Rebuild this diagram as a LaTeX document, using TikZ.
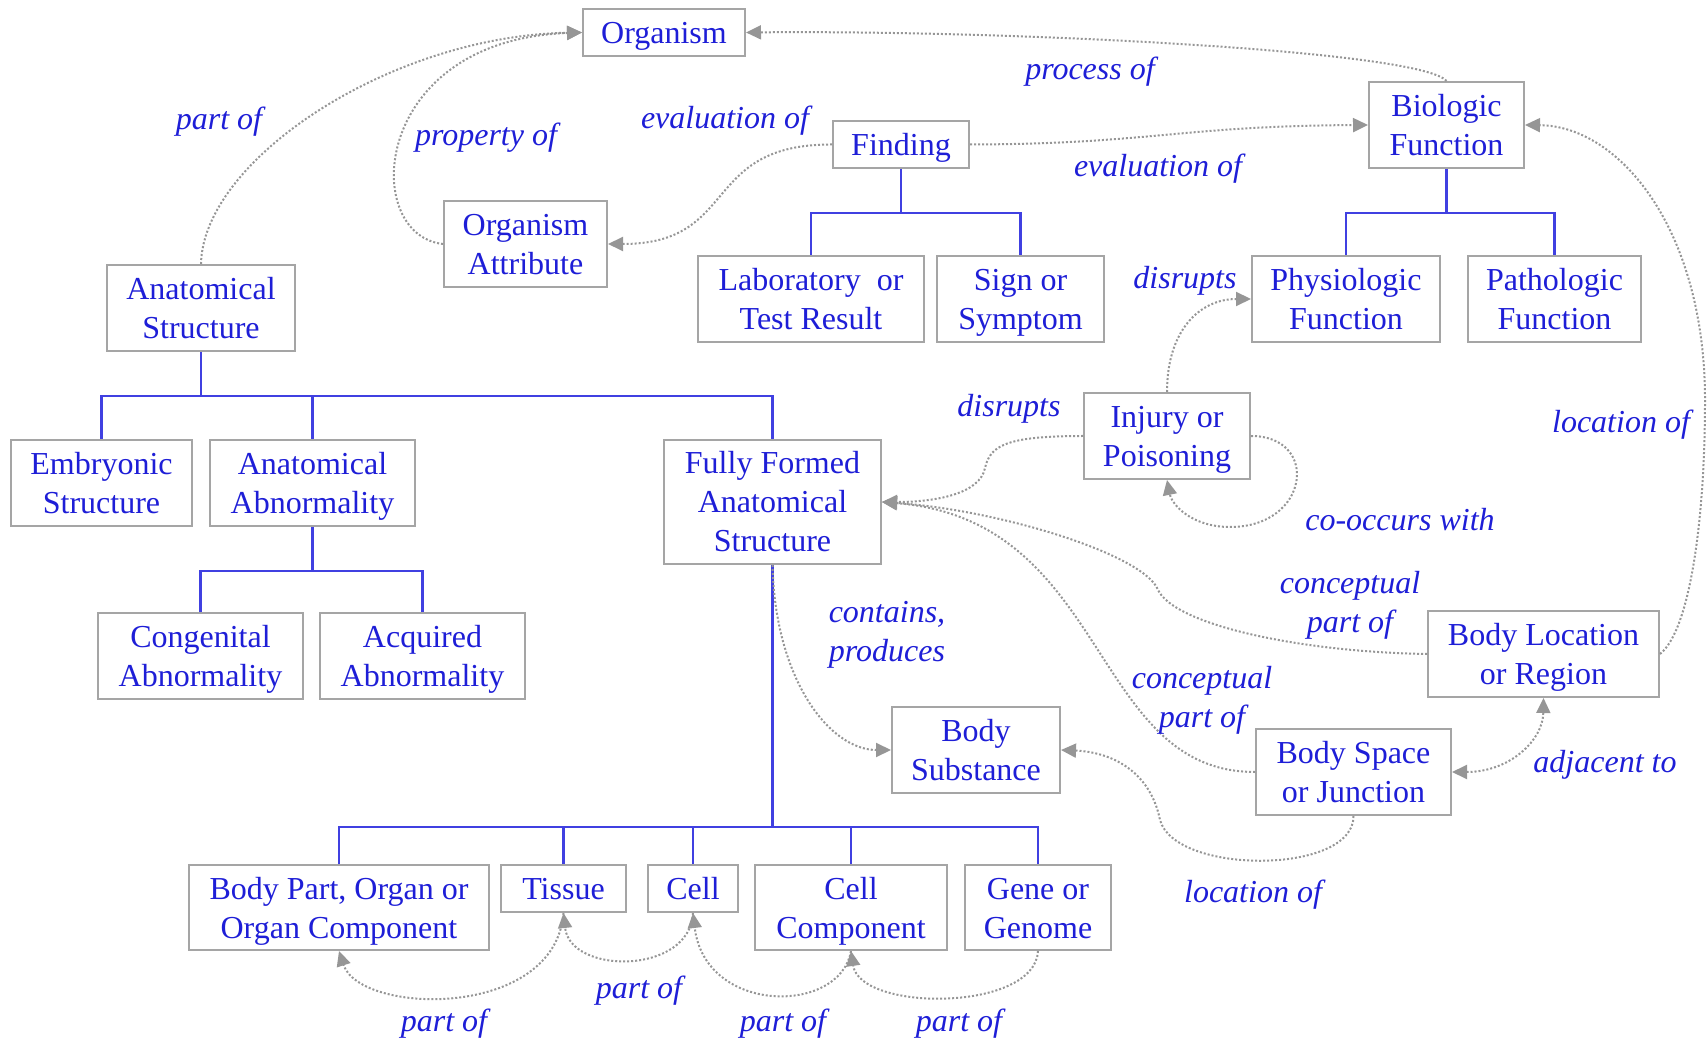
\documentclass[tikz,border=0pt]{standalone}
\usepackage{fontspec}
\setmainfont{Liberation Serif}
\usetikzlibrary{arrows.meta}
\definecolor{txtblue}{RGB}{30,30,215}
\definecolor{treeblue}{RGB}{64,64,225}
\definecolor{boxgray}{RGB}{165,165,165}
\definecolor{relgray}{RGB}{150,150,150}
\begin{document}
\begin{tikzpicture}[x=0.5pt,y=-0.5pt,
 box/.style={draw=boxgray, line width=1pt, fill=white, text=txtblue, align=center, inner sep=0pt, font=\fontsize{16}{19.5}\selectfont, text height=11pt, text depth=0pt},
 two/.style={text height=30.5pt},
 three/.style={text height=50pt},
 sz/.style 2 args={minimum width=#1*0.5pt, minimum height=#2*0.5pt},
 lbl/.style={text=txtblue, font=\fontsize{16}{19.5}\selectfont\itshape, align=center, inner sep=0pt},
 tree/.style={draw=treeblue, line width=1.2pt},
 reln/.style={draw=relgray, line width=1pt, dash pattern=on 1pt off 1pt},
 rel/.style={reln, -{Triangle[length=7.5pt,width=7pt]}},
 relb/.style={reln, {Triangle[length=7.5pt,width=7pt]}-{Triangle[length=7.5pt,width=7pt]}}]
\useasboundingbox (0,0) rectangle (1708,1042);

% boxes
\node[box, sz={162}{47}]  (org)       at (664,32.5)   {Organism};
\node[box, sz={136}{47}]  (finding)   at (901,144.5)  {Finding};
\node[box, two, sz={163}{86}]  (oattr)     at (525.5,244)  {Organism\\Attribute};
\node[box, two, sz={188}{86}]  (anat)      at (201,308)    {Anatomical\\Structure};
\node[box, two, sz={226}{86}]  (lab)       at (811,299)    {Laboratory\ \ or\\Test Result};
\node[box, two, sz={167}{86}]  (sign)      at (1020.5,299) {Sign or\\Symptom};
\node[box, two, sz={155}{86}]  (bio)       at (1446.5,125) {Biologic\\Function};
\node[box, two, sz={188}{86}]  (physio)    at (1346,299)   {Physiologic\\Function};
\node[box, two, sz={173}{86}]  (patho)     at (1554.5,299) {Pathologic\\Function};
\node[box, two, sz={181}{86}]  (embryo)    at (101.5,483)  {Embryonic\\Structure};
\node[box, two, sz={205}{86}]  (abnorm)    at (312.5,483)  {Anatomical\\Abnormality};
\node[box, three, sz={217}{124}] (ff)      at (772.5,502)  {Fully Formed\\Anatomical\\Structure};
\node[box, two, sz={205}{86}]  (congen)    at (200.5,656)  {Congenital\\Abnormality};
\node[box, two, sz={205}{86}]  (acq)       at (422.5,656)  {Acquired\\Abnormality};
\node[box, two, sz={166}{86}]  (injury)    at (1167,436)   {Injury or\\Poisoning};
\node[box, two, sz={231}{86}]  (bodyloc)   at (1543.5,654) {Body Location\\or Region};
\node[box, two, sz={195}{86}]  (bodyspace) at (1353.5,772) {Body Space\\or Junction};
\node[box, two, sz={168}{86}]  (bodysub)   at (976,750)    {Body\\Substance};
\node[box, two, sz={300}{85}]  (bodypart)  at (339,907.5)  {Body Part, Organ or\\Organ Component};
\node[box, sz={125}{47}]  (tissue)    at (563.5,888.5) {Tissue};
\node[box, sz={90}{47}]   (cell)      at (693,888.5)  {Cell};
\node[box, two, sz={192}{85}]  (cellcomp)  at (851,907.5)  {Cell\\Component};
\node[box, two, sz={146}{85}]  (gene)      at (1038,907.5) {Gene or\\Genome};

% tree connectors
\draw[tree] (finding.south) -- ++(0,44) coordinate (fj);
\draw[tree] (lab.north) |- (fj) -| (sign.north);
\draw[tree] (bio.south) -- ++(0,44) coordinate (bj);
\draw[tree] (physio.north) |- (bj) -| (patho.north);
\draw[tree] (anat.south) -- ++(0,44) coordinate (aj);
\draw[tree] (embryo.north) |- (aj) -| (ff.north);
\draw[tree] (abnorm.north) -- (abnorm.north |- aj);
\draw[tree] (abnorm.south) -- ++(0,44) coordinate (abj);
\draw[tree] (congen.north) |- (abj) -| (acq.north);
\draw[tree] (ff.south) -- ++(0,262) coordinate (fj2);
\draw[tree] (bodypart.north) |- (fj2) -| (gene.north);
\draw[tree] (tissue.north) -- (tissue.north |- fj2);
\draw[tree] (cell.north) -- (cell.north |- fj2);
\draw[tree] (cellcomp.north) -- (cellcomp.north |- fj2);

% relations
\draw[rel] (anat.north) .. controls (203,160) and (390,36) .. (org.west);
\draw[rel] (oattr.west) .. controls (360,235) and (370,40) .. (org.west);
\draw[rel] (finding.west) .. controls (700,144) and (740,244) .. (oattr.east);
\draw[rel] (bio.north) .. controls (1420,50) and (1000,30) .. (org.east);
\draw[rel] (finding.east) .. controls (1150,144) and (1180,126) .. (bio.west);
\draw[rel] (injury.north) .. controls (1167,330) and (1200,299) .. (physio.west);
\draw[rel] (injury.west) .. controls (1005,436) and (990,446) .. (985,468)
   .. controls (980,494) and (935,502) .. (ff.east);
\draw[rel] (injury.east) .. controls (1320,436) and (1310,527) .. (1230,527)
   .. controls (1192,527) and (1172,505) .. (injury.south);
\draw[rel] (bodyloc.west) .. controls (1300,652) and (1175,625) .. (1158,590)
   .. controls (1145,555) and (1000,510) .. (ff.east);
\draw[rel] (bodyspace.west) .. controls (1090,772) and (1110,520) .. (ff.east);
\draw[rel] (ff.south) .. controls (775,680) and (830,750) .. (bodysub.west);
\draw[rel] (bodyspace.south) .. controls (1354,875) and (1175,875) .. (1160,820)
   .. controls (1150,770) and (1110,752) .. (bodysub.east);
\draw[rel] (bodyloc.east) .. controls (1690,630) and (1705,520) .. (1705,400)
   .. controls (1705,230) and (1620,126) .. (bio.east);
\draw[relb] (bodyspace.east) .. controls (1510,772) and (1543,740) .. (bodyloc.south);
\draw[rel] (tissue.south) .. controls (555,1020) and (360,1015) .. (bodypart.south);
\draw[rel] (cell.south) .. controls (690,975) and (570,975) .. (tissue.south);
\draw[rel] (cellcomp.south) .. controls (840,1015) and (705,1015) .. (cell.south);
\draw[rel] (gene.south) .. controls (1035,1012) and (860,1012) .. (cellcomp.south);

% labels
\node[lbl] (l1)  at (219,122)  {part of};
\node[lbl] (l2)  at (486,138)  {property of};
\node[lbl] (l3)  at (725,121)  {evaluation of};
\node[lbl] (l4)  at (1090,72)  {process of};
\node[lbl] (l5)  at (1158,169) {evaluation of};
\node[lbl] (l6)  at (1185,281) {disrupts};
\node[lbl] (l7)  at (1009,409) {disrupts};
\node[lbl] (l8)  at (1621,425) {location of};
\node[lbl] (l9)  at (1400,520) {co-occurs with};
\node[lbl] (l10) at (1350,605) {conceptual\\part of};
\node[lbl] (l11) at (1202,700) {conceptual\\part of};
\node[lbl] (l12) at (1605,765) {adjacent to};
\node[lbl] (l13) at (887,635)  {contains,\\produces};
\node[lbl] (l14) at (1253,895) {location of};
\node[lbl] (l15) at (444,1024) {part of};
\node[lbl] (l16) at (639,991)  {part of};
\node[lbl] (l17) at (783,1024) {part of};
\node[lbl] (l18) at (959,1024) {part of};
\end{tikzpicture}
\end{document}
